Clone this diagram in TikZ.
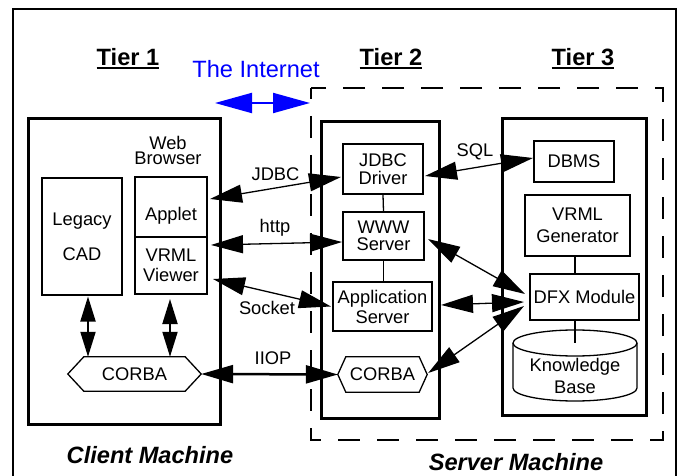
\documentclass[tikz,border=0pt]{standalone}
\usepackage{fontspec}
\setmainfont{Liberation Sans}
\usetikzlibrary{arrows.meta}
\definecolor{netblue}{RGB}{0,0,255}
% bold heading with a thick rule under it
\newcommand\tierlabel[1]{\setbox0\hbox{#1}\rlap{\rule[-3pt]{\wd0}{2pt}}\box0}

\begin{document}
\begin{tikzpicture}[x=1pt,y=-1pt,
  small/.style={font=\fontsize{18.3pt}{20pt}\selectfont},
  heading/.style={font=\fontsize{23.6pt}{26pt}\selectfont\bfseries, anchor=base},
  machine/.style={font=\fontsize{23.6pt}{26pt}\selectfont\bfseries\itshape, anchor=base},
  box/.style={draw, line width=2pt, inner sep=0pt, align=center, small},
  tierbox/.style={draw, line width=3pt, inner sep=0pt},
  link/.style={line width=1.3pt},
  biarrow/.style={{Triangle[length=32pt,width=18pt]}-{Triangle[length=32pt,width=18pt]}, line width=1.3pt},
  vbiarrow/.style={{Triangle[length=25pt,width=15pt]}-{Triangle[length=25pt,width=15pt]}, line width=2pt},
]
\useasboundingbox (0,0) rectangle (681,476);

% outer frame
\draw[line width=2pt] (12.5,9) rectangle (675.5,490);

% headings
\node[heading] (t1) at (128,66) {\tierlabel{Tier 1}};
\node[heading] (t2) at (391,66) {\tierlabel{Tier 2}};
\node[heading] (t3) at (583,66) {\tierlabel{Tier 3}};
\node[font=\fontsize{23.6pt}{26pt}\selectfont, text=netblue, anchor=base] (inet) at (256,77.5) {The Internet};
\coordinate (netL) at (215,103);
\coordinate (netR) at (310,103);
\draw[netblue, line width=2pt, {Triangle[length=37pt,width=20pt]}-{Triangle[length=37pt,width=20pt]}] (netL) -- (netR);

% server machine (dashed)
\draw[line width=2.5pt, dash pattern=on 22pt off 17pt, dash phase=11pt] (311,88) rectangle (663,440);

% tier containers
\node[tierbox, minimum width=192pt, minimum height=305pt] (client) at (124,271.5) {};
\node[tierbox, minimum width=118pt, minimum height=296pt] (tiertwo) at (380,270) {};
\node[tierbox, minimum width=144pt, minimum height=296pt] (tierthree) at (574,267) {};

% tier 1 components
\node[align=center, font=\fontsize{18.3pt}{15.3pt}\selectfont, inner sep=0pt] (web) at (168,150.5) {Web\\Browser};
\node[box, minimum width=80pt, minimum height=117pt, font=\fontsize{18.3pt}{35pt}\selectfont] (legacy) at (82,237) {Legacy\\CAD};
\node[box, minimum width=72pt, minimum height=60pt, text height=31pt] (applet) at (171,207) {Applet};
\node[box, minimum width=72pt, minimum height=57pt, font=\fontsize{18.3pt}{20pt}\selectfont] (viewer) at (171,265.5) {VRML\\Viewer};
\node[small, minimum width=133pt, minimum height=34pt, inner sep=0pt] (corbaC) at (134.5,374) {CORBA};
\draw[link] (corbaC.west) -- ([shift={(16,0)}]corbaC.north west) -- ([shift={(-16,0)}]corbaC.north east)
  -- (corbaC.east) -- ([shift={(-16,0)}]corbaC.south east) -- ([shift={(16,0)}]corbaC.south west) -- cycle;

% tier 2 components
\node[box, minimum width=80pt, minimum height=50pt, font=\fontsize{18.3pt}{18pt}\selectfont] (jdbc) at (383,169) {JDBC\\Driver};
\node[box, minimum width=81pt, minimum height=48pt, font=\fontsize{18.3pt}{17pt}\selectfont] (www) at (383.5,236) {WWW\\Server};
\node[box, minimum width=99pt, minimum height=49pt, font=\fontsize{18.3pt}{20pt}\selectfont] (app) at (382.5,306.5) {Application\\Server};
\node[small, minimum width=89pt, minimum height=35pt, inner sep=0pt] (corbaS) at (382.5,374.5) {CORBA};
\draw[link] (corbaS.west) -- ([shift={(8,0)}]corbaS.north west) -- ([shift={(-8,0)}]corbaS.north east)
  -- (corbaS.east) -- ([shift={(-8,0)}]corbaS.south east) -- ([shift={(8,0)}]corbaS.south west) -- cycle;

% tier 3 components
\node[box, minimum width=80pt, minimum height=41pt] (dbms) at (574,161.5) {DBMS};
\node[box, minimum width=105pt, minimum height=61pt, font=\fontsize{18.3pt}{22pt}\selectfont] (vrmlgen) at (577.5,225.5) {VRML\\Generator};
\node[box, minimum width=109pt, minimum height=46pt] (dfx) at (584.5,297) {DFX Module};
\coordinate (kbc) at (575,343);
\draw[link] (513,343) -- (513,388) arc[start angle=180, end angle=0, x radius=62, y radius=13] -- (637,343);
\draw[link] (kbc) ellipse [x radius=62, y radius=13];
\node[small, align=center, font=\fontsize{18.3pt}{22pt}\selectfont] (kb) at (575,376) {Knowledge\\Base};

% internal links
\draw[link] (jdbc.south) -- (www.north);
\draw[link] (www.south) -- (www.south |- app.north);
\coordinate (vg) at ([shift={(-2.5,0)}]vrmlgen.south);
\draw[link] (vg) -- (vg |- dfx.north);
\draw[link] (kbc |- dfx.south) -- (kbc);

% client links to CORBA
\coordinate (la) at ([shift={(6,0)}]legacy.south);
\draw[vbiarrow] (la) -- (la |- corbaC.north);
\coordinate (va) at ([shift={(-1,4)}]viewer.south);
\draw[vbiarrow] (va) -- (va |- corbaC.north);

% protocol links
\draw[biarrow] ([shift={(2,-8)}]applet.east) -- node[small, above=3pt, pos=0.5] (lj) {JDBC} ([shift={(-1,8)}]jdbc.west);
\draw[biarrow] ([shift={(3,9)}]viewer.north east) -- ([shift={(0,6)}]www.west);
\node[small, anchor=base] (lh) at (275,233) {http};
\draw[biarrow] ([shift={(5,13.5)}]viewer.east) -- ([shift={(-1,0)}]app.west);
\node[small, anchor=base] (ls) at (267,315) {Socket};
\draw[biarrow, line width=2.5pt] (corbaC.east) -- (corbaS.west);
\node[small, anchor=base] (li) at (273,364) {IIOP};
\draw[biarrow] ([shift={(1,7)}]jdbc.east) -- ([shift={(0,-3.5)}]dbms.west);
\node[small, anchor=base] (lq) at (475,157) {SQL};

% links into the DFX module
\draw[biarrow] ([shift={(3,3)}]www.east) -- ([shift={(-4,-3)}]dfx.west);
\draw[biarrow] ([shift={(8,-1.5)}]app.east) -- ([shift={(-5,5)}]dfx.west);
\draw[biarrow] ([shift={(1,-1.5)}]corbaS.east) -- ([shift={(-5,9)}]dfx.west);

% machine captions
\node[machine] (cm) at (150,463) {Client Machine};
\node[machine] (sm) at (516,470) {Server Machine};
\end{tikzpicture}
\end{document}
